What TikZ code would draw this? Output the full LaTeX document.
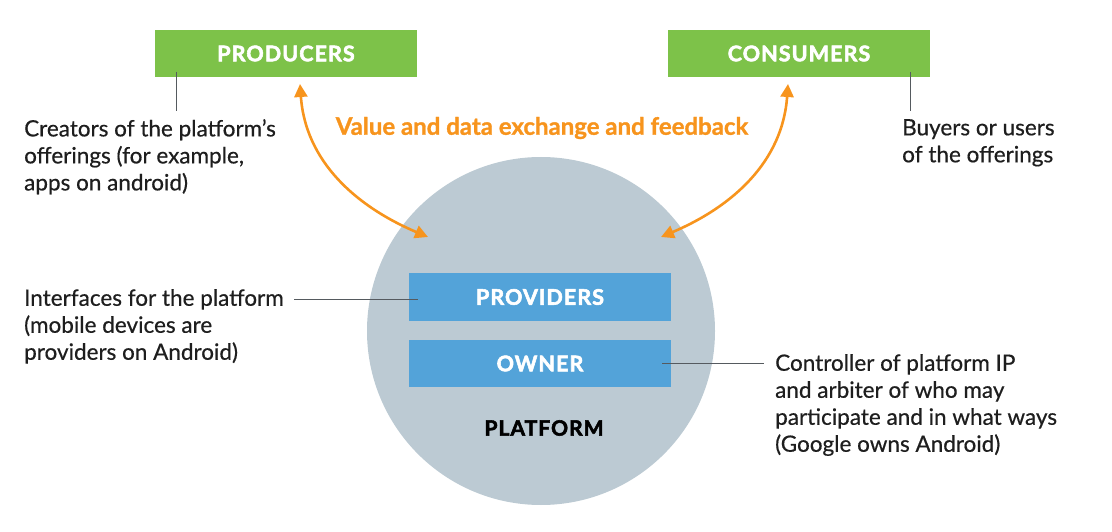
\documentclass[tikz,border=0pt]{standalone}
\usepackage{fontspec}
\setmainfont{Lato}[FakeBold=0.5]
\newfontfamily\heavy{Lato}[FakeBold=2.6,LetterSpace=5]
\newfontfamily\semi{Lato}[FakeBold=1.2]
\usetikzlibrary{arrows.meta}
\definecolor{prodgreen}{RGB}{125,194,73}
\definecolor{provblue}{RGB}{83,163,217}
\definecolor{platgray}{RGB}{188,202,211}
\definecolor{xorange}{RGB}{247,148,29}
\definecolor{leadgray}{RGB}{85,90,95}
\definecolor{bodytext}{RGB}{30,30,30}
\tikzset{
  headfont/.style={font={\heavy\bfseries\fontsize{21.5}{24}\selectfont}},
  greenbox/.style={fill=prodgreen, minimum width=262pt, minimum height=47pt, inner sep=0pt,
    text=white, headfont},
  bluebox/.style={fill=provblue, minimum width=262pt, minimum height=48pt, inner sep=0pt,
    text=white, headfont},
  desc/.style={anchor=north west, align=left, inner sep=0pt, text=bodytext,
    font={\fontsize{22.5}{27}\selectfont}},
  leader/.style={draw=leadgray, line width=1pt},
  flow/.style={draw=xorange, line width=2.6pt,
    {Triangle[length=13pt,width=13pt]}-{Triangle[length=13pt,width=13pt]}}
}
\begin{document}
\begin{tikzpicture}[x=1pt,y=-1pt]
\useasboundingbox (0,0) rectangle (1112,532);
% platform circle
\node[circle, fill=platgray, minimum size=348pt, inner sep=0pt] (platform) at (541,331) {};
\node[headfont, font={\heavy\bfseries\fontsize{21}{24}\selectfont}, text=black] (platlabel) at (544,428) {PLATFORM};
% boxes
\node[greenbox] (producers) at (286,53.5) {PRODUCERS};
\node[greenbox] (consumers) at (799,53.5) {CONSUMERS};
\node[bluebox] (providers) at (540,297) {PROVIDERS};
\node[bluebox, minimum height=47pt] (owner) at (540,363.5) {OWNER};
% descriptions
\node[desc] (creators) at (24,119) {Creators of the platform’s\\offerings (for example,\\apps on android)};
\node[desc] (interfaces) at (24,289) {Interfaces for the platform\\(mobile devices are\\providers on Android)};
\node[desc] (buyers) at (902,119) {Buyers or users\\of the offerings};
\node[desc] (controller) at (775,354) {Controller of platform IP\\and arbiter of who may\\participate and in what ways\\(Google owns Android)};
% exchange label
\node[text=xorange, font={\semi\bfseries\fontsize{24}{26}\selectfont}] (value) at (542,128) {Value and data exchange and feedback};
% leader lines
\coordinate (pl1) at (176,72);
\coordinate (pl2) at (176,111);
\draw[leader] (pl1) -- (pl2);
\coordinate (cl1) at (910,72);
\coordinate (cl2) at (910,111);
\draw[leader] (cl1) -- (cl2);
\coordinate (il1) at (294,299);
\coordinate (il2) at (418,299);
\draw[leader] (il1) -- (il2);
\coordinate (ol1) at (662,363);
\coordinate (ol2) at (764,363);
\draw[leader] (ol1) -- (ol2);
% flow arrows
\coordinate (lt) at (300,84);
\coordinate (lb) at (428,237);
\coordinate (rt) at (788,84);
\coordinate (rb) at (661,237);
\draw[flow] (lt) to[out=-86, in=157] (lb);
\draw[flow] (rt) to[out=-94, in=23] (rb);
\end{tikzpicture}
\end{document}
